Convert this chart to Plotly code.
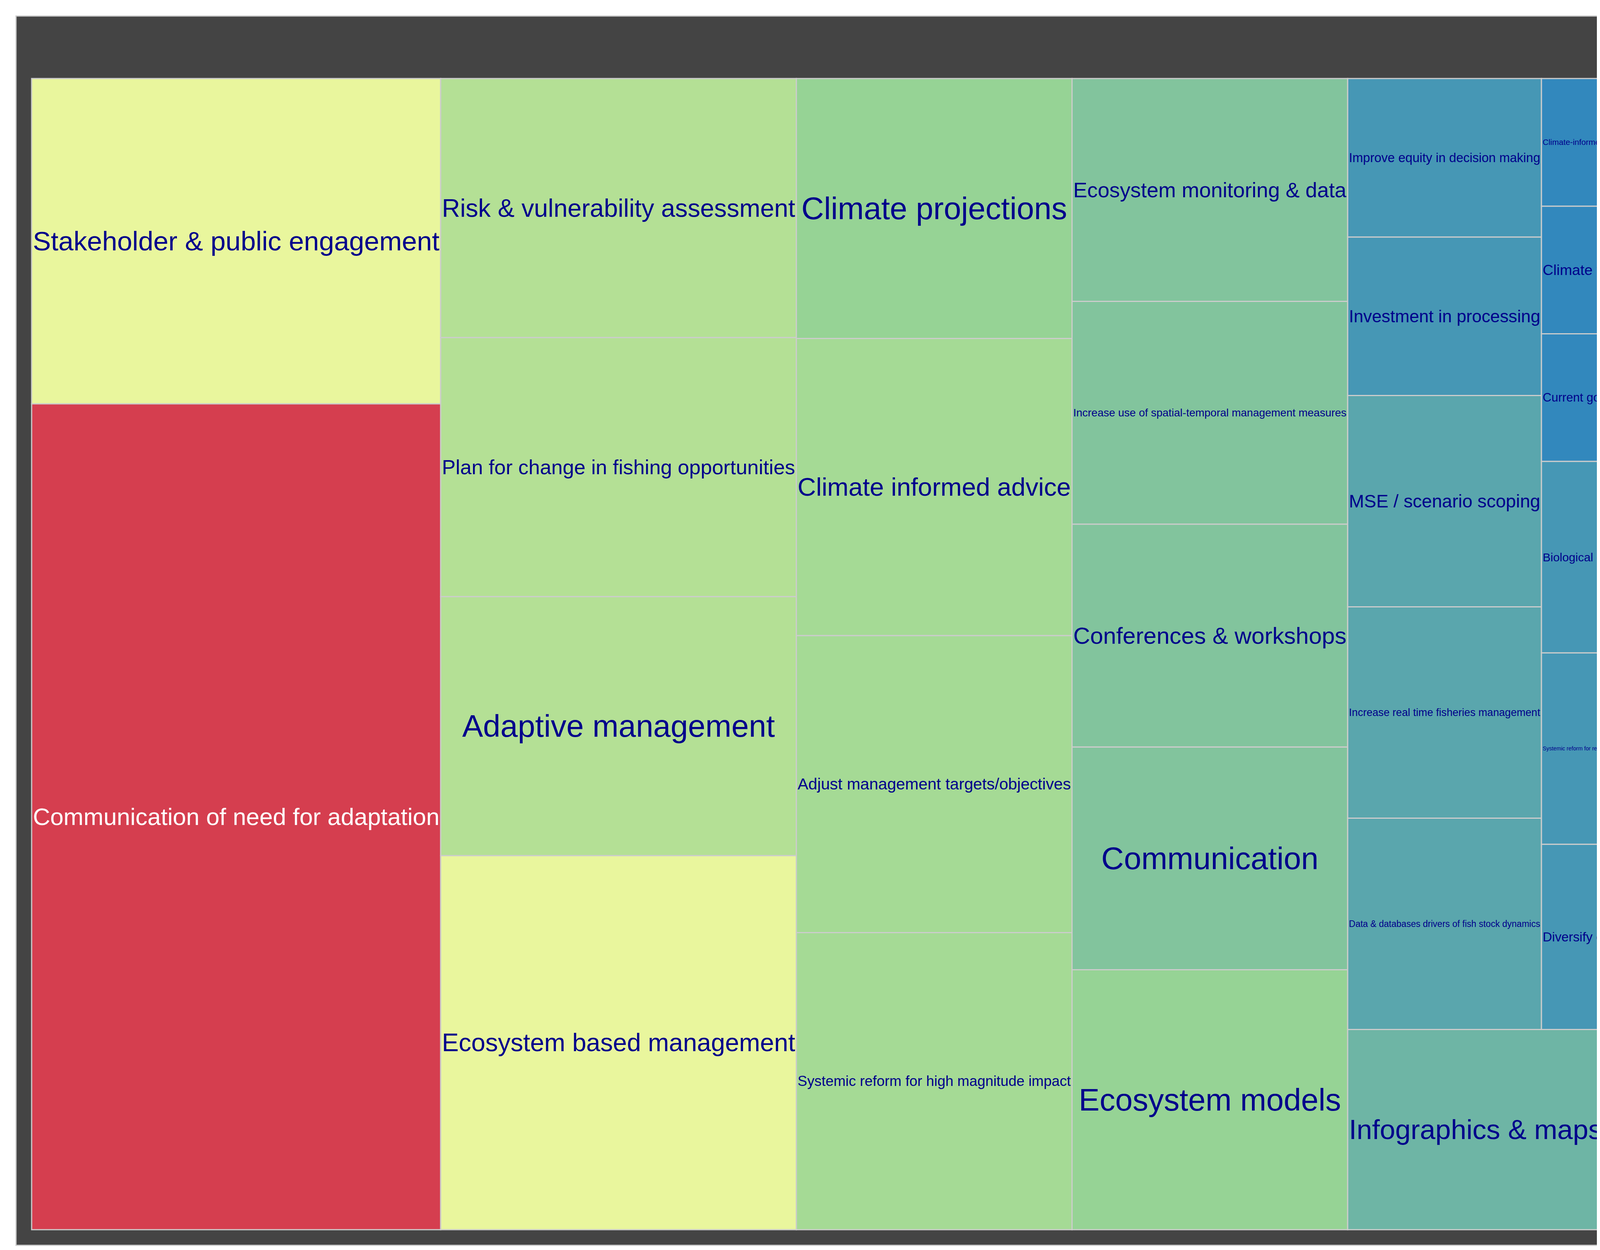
import plotly.graph_objects as go

# labels and frequencies
labels = [
    "Communication of need for adaptation", "Stakeholder & public engagement", "Ecosystem based management",
    "Adaptive management", "Plan for change in fishing opportunities", "Risk & vulnerability assessment",
    "Systemic reform for high magnitude impact", "Adjust management targets/objectives", "Climate informed advice",
    "Climate projections", "Ecosystem models", "Communication", "Conferences & workshops",
    "Increase use of spatial-temporal management measures", "Ecosystem monitoring & data",
    "Infographics & maps", "Improve planning for emergency responses", "Climate informed stock assessment models",
    "Prepare for changes in markets & consumer preference",
    "Data & databases drivers of fish stock dynamics", "Increase real time fisheries management", "MSE / scenario scoping",
    "Investment in processing", "Improve equity in decision making", "Diversify opportunties to fish",
    "Data & maps on species distribution", "Data & databases on oceanographic variables", "Multispecies models",
    "Systemic reform for pre-empted impact", "Systemic reform for response to early warning/magnitude impact",
    "Biological observations & data",
    "Current governance structure", "Climate forecast models", "Climate-informed biological reference points",
    "Clear objectives", "Carbon tool", "Fisheries & catch data", "Equitable engagement", "Define spatial scale",
    "Data social & economic fleets", "MPA", "Monitoring plan", "Livelihood diversification of coastal communities",
    "Remote sensing/monitoring", "Reform cross-jurisdiction governance", "Traceable supply chains", "Survey data",
    "Support multitrophic aquaculture", "Participatory stakeholder workshops", "Plurality of knowledge",
    "Fleet dynamics & vulnerability", "Identify regional environmental parameters", "Increase results based management",
    "Data & databases on sediments", "Data & maps of pressures", "Data & understanding of life history",
    "Data on bioenergetics & physiology", "AI & big data", "Aquaculture threat forecasting",
]
freq = [
    33, 13, 13,
    9, 9, 9,
    8, 8, 8,
    7, 7, 6, 6,
    6, 6,
    5, 5, 5,
    5,
    4, 4, 4,
    3, 3, 3,
    3, 3, 3,
    3, 3,
    3,
    2, 2, 2,
    2, 2, 2, 2, 2,
    2, 2, 2, 2,
    2, 2, 2, 2,
    2, 2, 2,
    2, 2, 2,
    2, 2, 2,
    2, 2, 2,
]

spectral = ["#3288BD", "#99D594", "#E6F598", "#FFFFBF", "#FEE08B", "#FC8D59", "#D53E4F"]
scale = [[i / 6, c] for i, c in enumerate(spectral)]

shown = ["<span style='color:white'>" + l + "</span>" if f > 30 else l for l, f in zip(labels, freq)]

fig = go.Figure(go.Treemap(
    labels=labels,
    parents=[""] * len(labels),
    values=freq,
    text=shown,
    sort=True,
    tiling=dict(packing="squarify", pad=0, flip="y"),
    marker=dict(colors=freq, colorscale=scale, cmin=2, cmax=33,
                line=dict(color="#CCCCCC", width=3),
                showscale=True,
                colorbar=dict(title=dict(text="freq", font=dict(size=56, color="black")),
                              tickvals=[10, 20, 30], tickfont=dict(size=48, color="#4D4D4D"),
                              lenmode="pixels", len=290, thickness=80, outlinewidth=0,
                              x=1.01, xanchor="left", y=0.5, yanchor="middle", ticks="")),
    texttemplate="%{text}",
    textposition="middle center",
    textfont=dict(family="Liberation Sans", color="#00008B", size=80),
    hoverinfo="label+value",
))
fig.update_layout(
    width=6400, height=3200,
    margin=dict(l=33, r=300, t=33, b=20),
    paper_bgcolor="white",
    font=dict(family="Liberation Sans"),
)
fig.write_html("out.html")
